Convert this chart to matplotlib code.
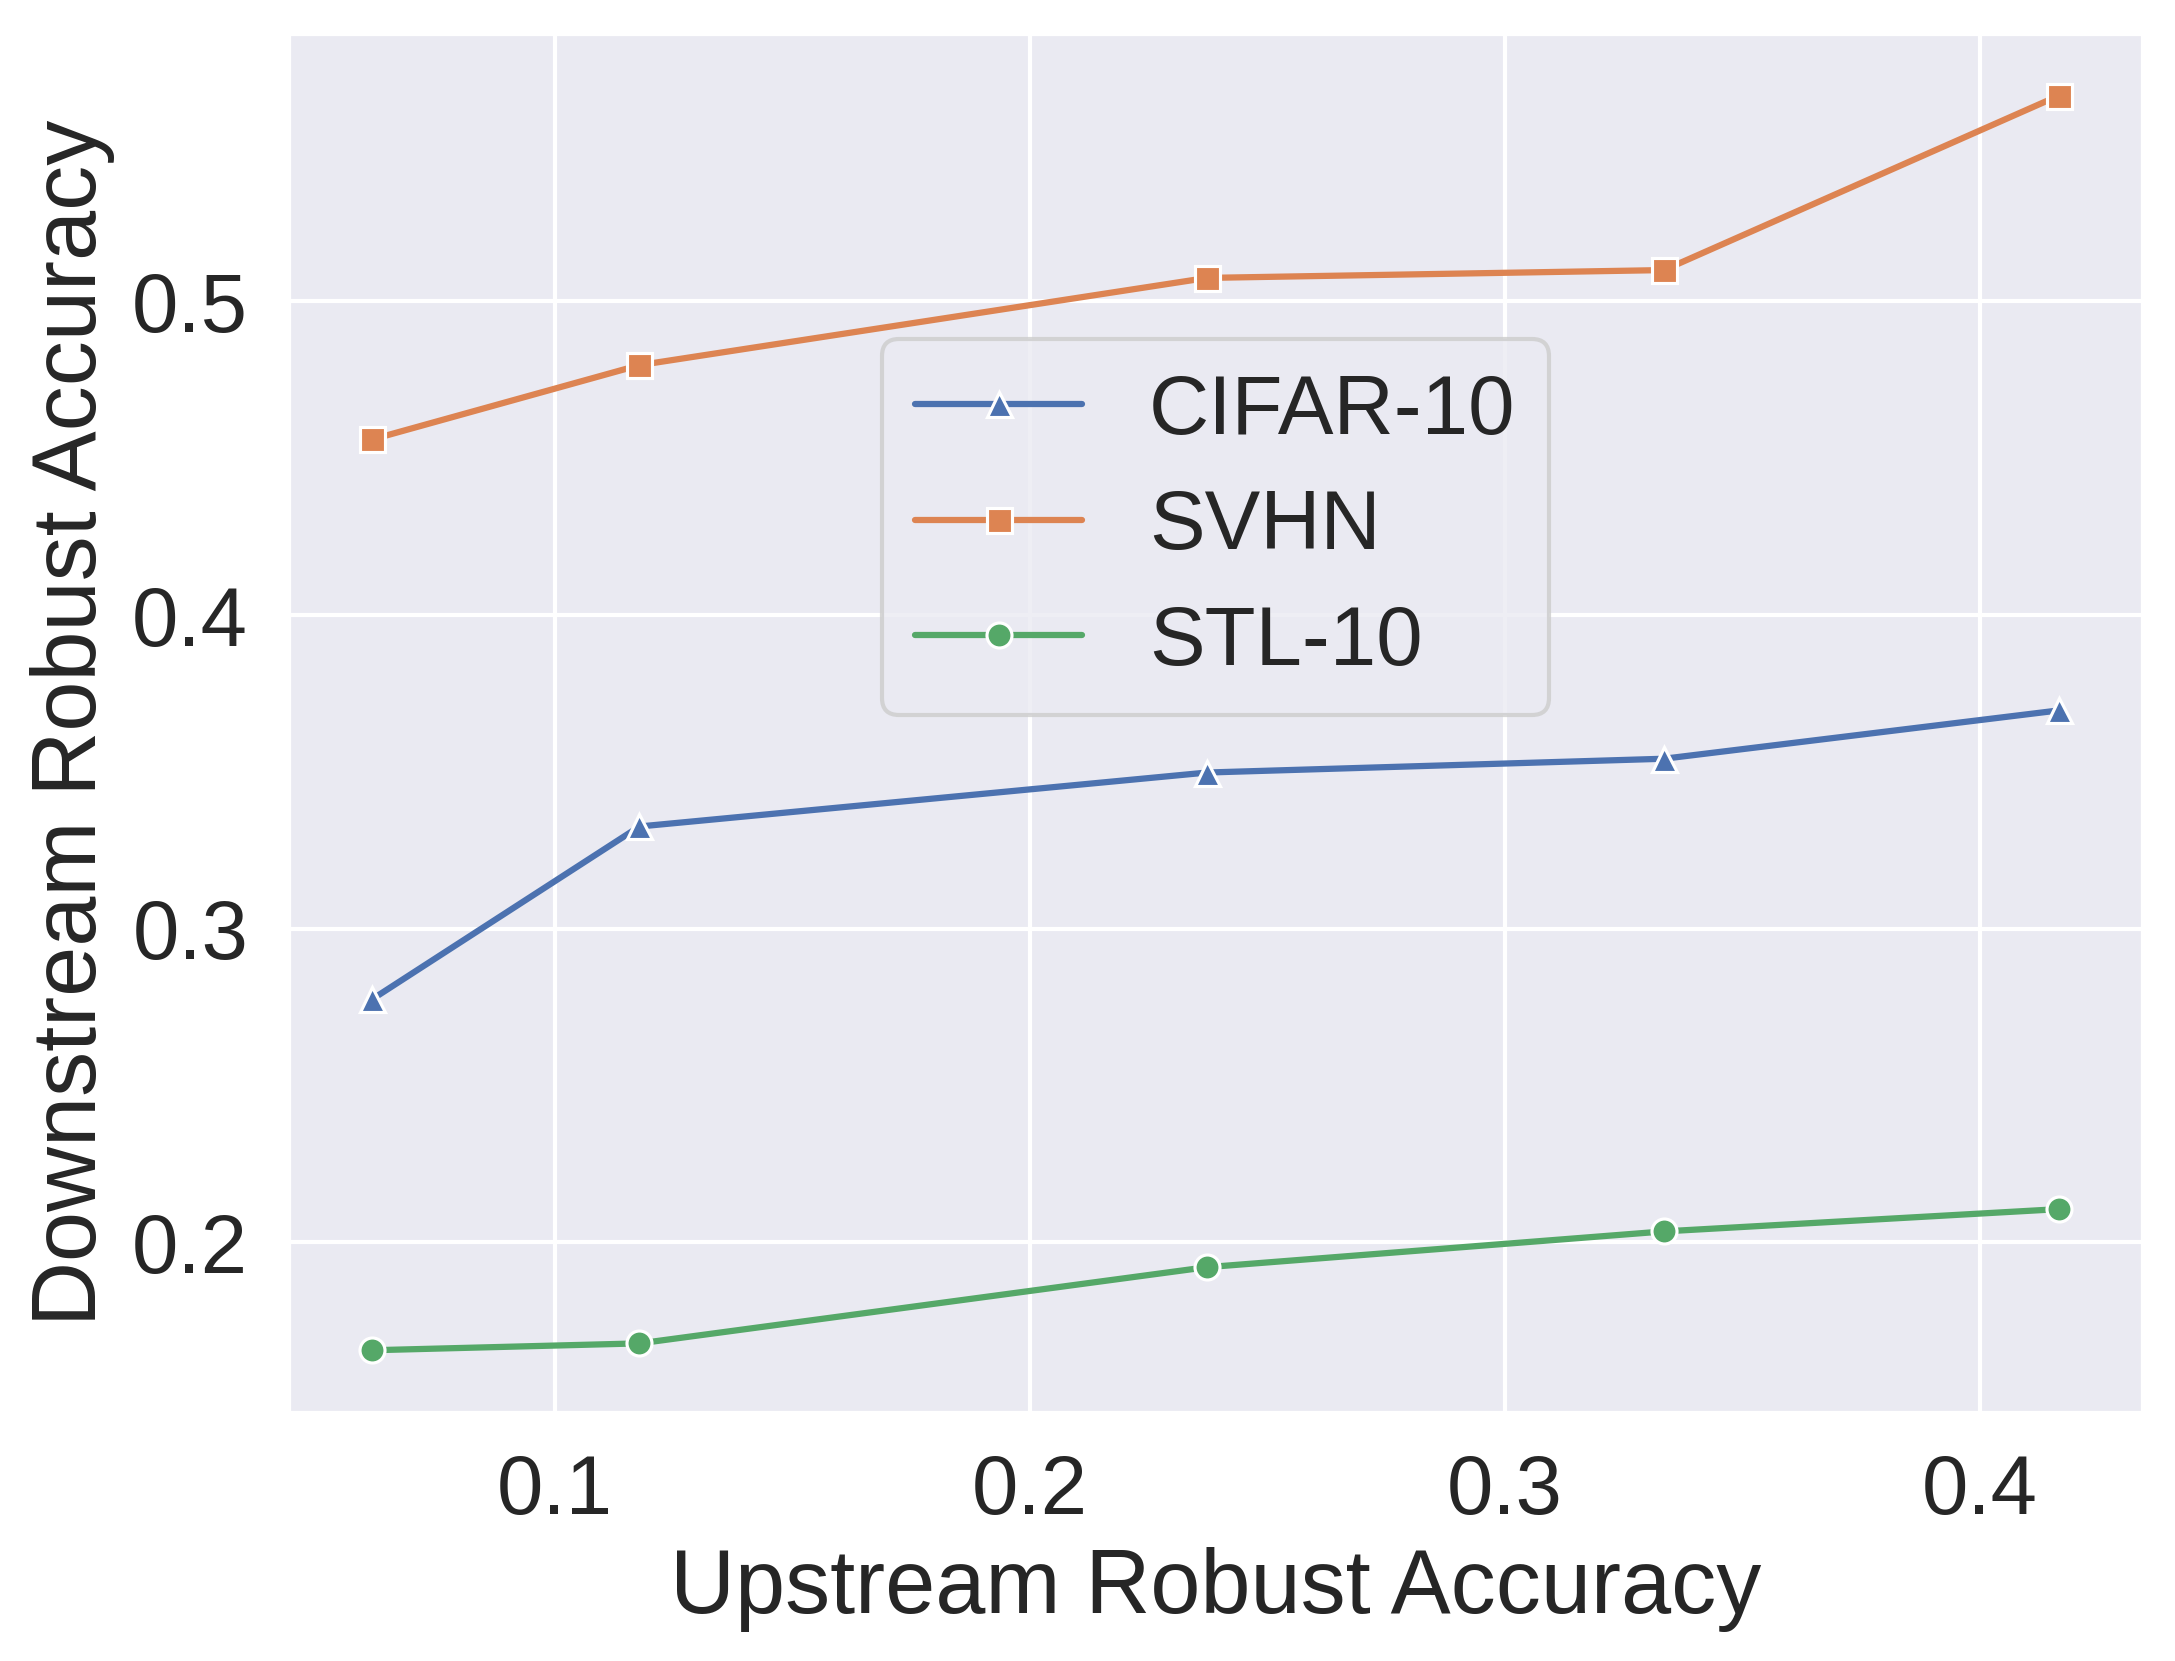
import numpy as np
import matplotlib
matplotlib.use("Agg")
import matplotlib.pyplot as plt
import seaborn as sns

# upstream robust accuracy (x) and downstream robust accuracy per dataset
upstream = [0.0615, 0.1178, 0.2373, 0.3335, 0.4166]
cifar10 = [0.2775, 0.3326, 0.3498, 0.3542, 0.3696]
svhn = [0.4560, 0.4797, 0.5075, 0.5100, 0.5656]
stl10 = [0.1656, 0.1678, 0.1921, 0.2035, 0.2106]

sns.set_theme(style="darkgrid")
plt.rcParams['font.family'] = ['Liberation Sans', 'DejaVu Sans']
colors = sns.color_palette()

fig, ax = plt.subplots(figsize=(7.25, 5.537), dpi=300)
fig.subplots_adjust(left=0.1323, right=0.9853, top=0.9801, bottom=0.1493)

ax.plot(upstream, cifar10, marker='^', color=colors[0], lw=1.5, ms=6,
        mec='white', mew=0.75, label='CIFAR-10')
ax.plot(upstream, svhn, marker='s', color=colors[1], lw=1.5, ms=6,
        mec='white', mew=0.75, label='SVHN')
ax.plot(upstream, stl10, marker='o', color=colors[2], lw=1.5, ms=6,
        mec='white', mew=0.75, label='STL-10')

ax.set_xticks([0.1, 0.2, 0.3, 0.4])
ax.set_yticks([0.2, 0.3, 0.4, 0.5])
ax.tick_params(labelsize=20)
ax.set_xlabel('Upstream Robust Accuracy', fontsize=21.6, labelpad=4)
ax.set_ylabel('Downstream Robust Accuracy', fontsize=21.6)

ax.legend(fontsize=20, loc='center', bbox_to_anchor=(0.5, 0.642),
          labelspacing=0.45)

fig.savefig('out.png', dpi=300)
